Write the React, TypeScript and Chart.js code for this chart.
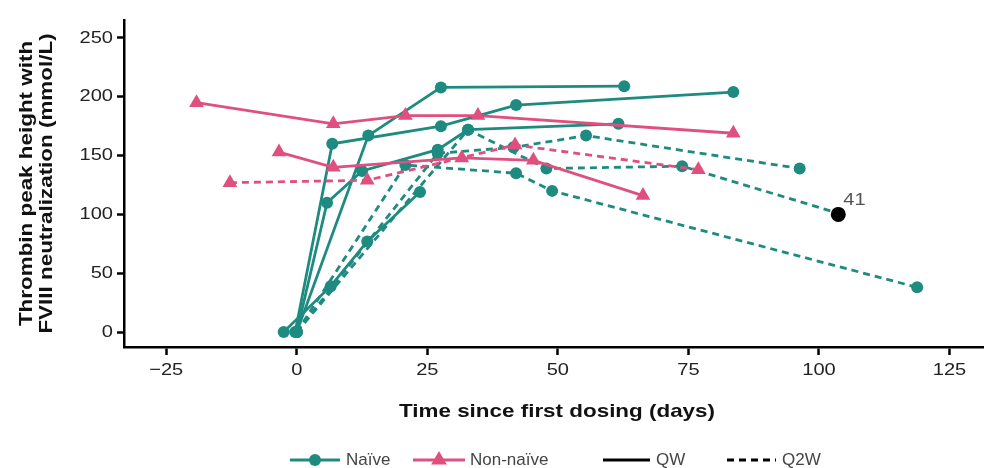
import React, { useEffect, useRef } from "react";
import { Chart, registerables } from "chart.js";

Chart.register(...registerables);

const TEAL = "#1e8b80";
const PINK = "#e0507e";
const FONT = "'Liberation Sans', Arial, sans-serif";

// x ticks / y ticks
const xTicks = [-25, 0, 25, 50, 75, 100, 125];
const yTicks = [0, 50, 100, 150, 200, 250];

// Naive, QW (solid)
const naiveQW1Days = [0, 13.7, 27.6, 62.7];
const naiveQW1Vals = [0, 167, 208, 209];
const naiveQW2Days = [-0.3, 6.8, 27.6, 42, 83.6];
const naiveQW2Vals = [0, 160, 175, 193, 204];
const naiveQW3Days = [0, 5.8, 12.5, 27, 32.8, 61.6];
const naiveQW3Vals = [0, 110, 137, 155, 172, 177];
const naiveQW4Days = [-2.5, 6.5, 13.5, 23.6];
const naiveQW4Vals = [0, 39, 77, 119];

// Naive, Q2W (dashed)
const naiveQ2W1Days = [0, 27, 41.5, 55.4, 96.3];
const naiveQ2W1Vals = [0, 152, 157, 167, 139];
const naiveQ2W2Days = [0, 32.8, 47.8, 73.8, 103.7];
const naiveQ2W2Vals = [0, 172, 139, 141, 101];
const naiveQ2W3Days = [0, 20.8, 42, 48.9, 118.8];
const naiveQ2W3Vals = [0, 142, 135, 120, 38];

// Non-naive, QW (solid)
const nonNaiveQW1Days = [-19.2, 7, 20.8, 34.7, 83.6];
const nonNaiveQW1Vals = [195, 177, 184, 184, 169];
const nonNaiveQW2Days = [-3.4, 7, 31.6, 45.3, 66.3];
const nonNaiveQW2Vals = [153, 140, 148, 146, 116];

// Non-naive, Q2W (dashed)
const nonNaiveQ2W1Days = [-12.8, 13.5, 41.8, 76.9];
const nonNaiveQ2W1Vals = [127, 129, 159, 138];

// Highlighted patient
const highlightDays = [103.7];
const highlightVals = [100];
const highlightLabel = "41";

const legendItems = ["Naïve", "Non-naïve", "QW", "Q2W"];
const xTitle = "Time since first dosing (days)";
const yTitle = ["Thrombin peak height with", "FVIII neutralization (mmol/L)"];

const pts = (d: number[], v: number[]) => d.map((x, i) => ({ x, y: v[i] }));

const DASH = [7, 5];
const STRETCH = 1.18;

function stretchText(
  ctx: CanvasRenderingContext2D,
  text: string,
  x: number,
  y: number,
  align: CanvasTextAlign,
  sx: number
) {
  ctx.save();
  ctx.translate(x, y);
  ctx.scale(sx, 1);
  ctx.textAlign = align;
  ctx.fillText(text, 0, 0);
  ctx.restore();
}

export default function App() {
  const ref = useRef<HTMLCanvasElement | null>(null);

  useEffect(() => {
    if (!ref.current) return;

    const teal = (d: number[], v: number[], dashed: boolean) => ({
      data: pts(d, v),
      showLine: true,
      borderColor: TEAL,
      backgroundColor: TEAL,
      borderWidth: 2.8,
      borderDash: dashed ? DASH : [],
      pointRadius: 6,
      pointStyle: "circle",
      pointBorderWidth: 0,
      pointBackgroundColor: TEAL,
    });
    const pink = (d: number[], v: number[], dashed: boolean) => ({
      data: pts(d, v),
      showLine: true,
      borderColor: PINK,
      backgroundColor: PINK,
      borderWidth: 2.8,
      borderDash: dashed ? DASH : [],
      pointRadius: 8.5,
      pointStyle: "triangle",
      pointBorderWidth: 0,
      pointBackgroundColor: PINK,
    });

    const datasets: any[] = [
      {
        data: pts(highlightDays, highlightVals),
        showLine: false,
        pointRadius: 7.5,
        pointBackgroundColor: "#000",
        pointBorderWidth: 0,
        backgroundColor: "#000",
      },
      pink(nonNaiveQW1Days, nonNaiveQW1Vals, false),
      pink(nonNaiveQW2Days, nonNaiveQW2Vals, false),
      pink(nonNaiveQ2W1Days, nonNaiveQ2W1Vals, true),
      teal(naiveQW1Days, naiveQW1Vals, false),
      teal(naiveQW2Days, naiveQW2Vals, false),
      teal(naiveQW3Days, naiveQW3Vals, false),
      teal(naiveQW4Days, naiveQW4Vals, false),
      teal(naiveQ2W1Days, naiveQ2W1Vals, true),
      teal(naiveQ2W2Days, naiveQ2W2Vals, true),
      teal(naiveQ2W3Days, naiveQ2W3Vals, true),
    ];

    const overlay = {
      id: "overlay",
      afterDraw(chart: any) {
        const ctx = chart.ctx as CanvasRenderingContext2D;
        const xs = chart.scales.x;
        const ys = chart.scales.y;
        const area = chart.chartArea;
        ctx.save();
        ctx.textBaseline = "middle";

        // tick labels (stretched to match the reference proportions)
        ctx.fillStyle = "#222";
        ctx.font = `17px ${FONT}`;
        xs.ticks.forEach((t: any) => {
          const v = t.value as number;
          const s = v < 0 ? "\u2212" + Math.abs(v) : String(v);
          stretchText(ctx, s, xs.getPixelForValue(v), area.bottom + 23, "center", STRETCH);
        });
        ys.ticks.forEach((t: any) => {
          const v = t.value as number;
          stretchText(ctx, String(v), area.left - 11, ys.getPixelForValue(v), "right", STRETCH);
        });

        // label for highlighted point
        ctx.fillStyle = "#555";
        ctx.font = `17px ${FONT}`;
        stretchText(
          ctx,
          highlightLabel,
          xs.getPixelForValue(highlightDays[0]) + 5,
          ys.getPixelForValue(highlightVals[0]) - 14,
          "left",
          STRETCH
        );

        // x title
        ctx.fillStyle = "#111";
        ctx.font = `bold 19px ${FONT}`;
        stretchText(ctx, xTitle, 557, 412, "center", STRETCH);

        // y title
        ctx.save();
        ctx.translate(37, (area.top + area.bottom) / 2);
        ctx.rotate(-Math.PI / 2);
        ctx.font = `bold 19px ${FONT}`;
        stretchText(ctx, yTitle[0], 0, -10, "center", STRETCH);
        stretchText(ctx, yTitle[1], 0, 10, "center", STRETCH);
        ctx.restore();

        // legend
        const ly = 460;
        ctx.font = `17px ${FONT}`;
        ctx.textAlign = "left";
        ctx.lineWidth = 3;
        // Naive
        ctx.strokeStyle = TEAL;
        ctx.setLineDash([]);
        ctx.beginPath();
        ctx.moveTo(290, ly);
        ctx.lineTo(340, ly);
        ctx.stroke();
        ctx.fillStyle = TEAL;
        ctx.beginPath();
        ctx.arc(315, ly, 6, 0, Math.PI * 2);
        ctx.fill();
        ctx.fillStyle = "#444";
        ctx.fillText(legendItems[0], 346, ly);
        // Non-naive
        ctx.strokeStyle = PINK;
        ctx.beginPath();
        ctx.moveTo(413, ly);
        ctx.lineTo(465, ly);
        ctx.stroke();
        ctx.fillStyle = PINK;
        const r = 9;
        ctx.beginPath();
        ctx.moveTo(439, ly - r);
        ctx.lineTo(439 + r * 0.87, ly + r * 0.5);
        ctx.lineTo(439 - r * 0.87, ly + r * 0.5);
        ctx.closePath();
        ctx.fill();
        ctx.fillStyle = "#444";
        ctx.fillText(legendItems[1], 470, ly);
        // QW
        ctx.strokeStyle = "#000";
        ctx.beginPath();
        ctx.moveTo(603, ly);
        ctx.lineTo(650, ly);
        ctx.stroke();
        ctx.fillText(legendItems[2], 656, ly);
        // Q2W
        ctx.setLineDash(DASH);
        ctx.beginPath();
        ctx.moveTo(727, ly);
        ctx.lineTo(776, ly);
        ctx.stroke();
        ctx.setLineDash([]);
        ctx.fillText(legendItems[3], 782, ly);
        ctx.restore();
      },
    };

    const chart = new Chart(ref.current, {
      type: "scatter",
      data: { datasets },
      options: {
        animation: false,
        responsive: false,
        maintainAspectRatio: false,
        layout: { autoPadding: false, padding: { left: 0, right: 0, top: 20, bottom: 0 } },
        plugins: {
          legend: { display: false },
          tooltip: { enabled: false },
        },
        scales: {
          x: {
            type: "linear",
            min: -33.08,
            max: 131.6,
            afterBuildTicks: (s: any) => {
              s.ticks = xTicks.map((v) => ({ value: v }));
            },
            afterFit: (s: any) => {
              s.height = 121;
            },
            border: { display: true, color: "#000", width: 2.5 },
            grid: {
              display: true,
              drawOnChartArea: false,
              drawTicks: true,
              tickLength: 8,
              tickWidth: 2.5,
              tickColor: "#000",
            },
            ticks: { display: false },
          },
          y: {
            type: "linear",
            min: -12.75,
            max: 265.3,
            afterBuildTicks: (s: any) => {
              s.ticks = yTicks.map((v) => ({ value: v }));
            },
            afterFit: (s: any) => {
              s.width = 124;
            },
            border: { display: true, color: "#000", width: 2.5 },
            grid: {
              display: true,
              drawOnChartArea: false,
              drawTicks: true,
              tickLength: 7,
              tickWidth: 2.5,
              tickColor: "#000",
            },
            ticks: { display: false },
          },
        },
      },
      plugins: [overlay],
    } as any);

    return () => chart.destroy();
  }, []);

  return (
    <div style={{ position: "absolute", left: 0, top: 0, width: 984, height: 468, background: "#fff" }}>
      <canvas ref={ref} width={984} height={468} style={{ width: 984, height: 468, display: "block" }} />
    </div>
  );
}
